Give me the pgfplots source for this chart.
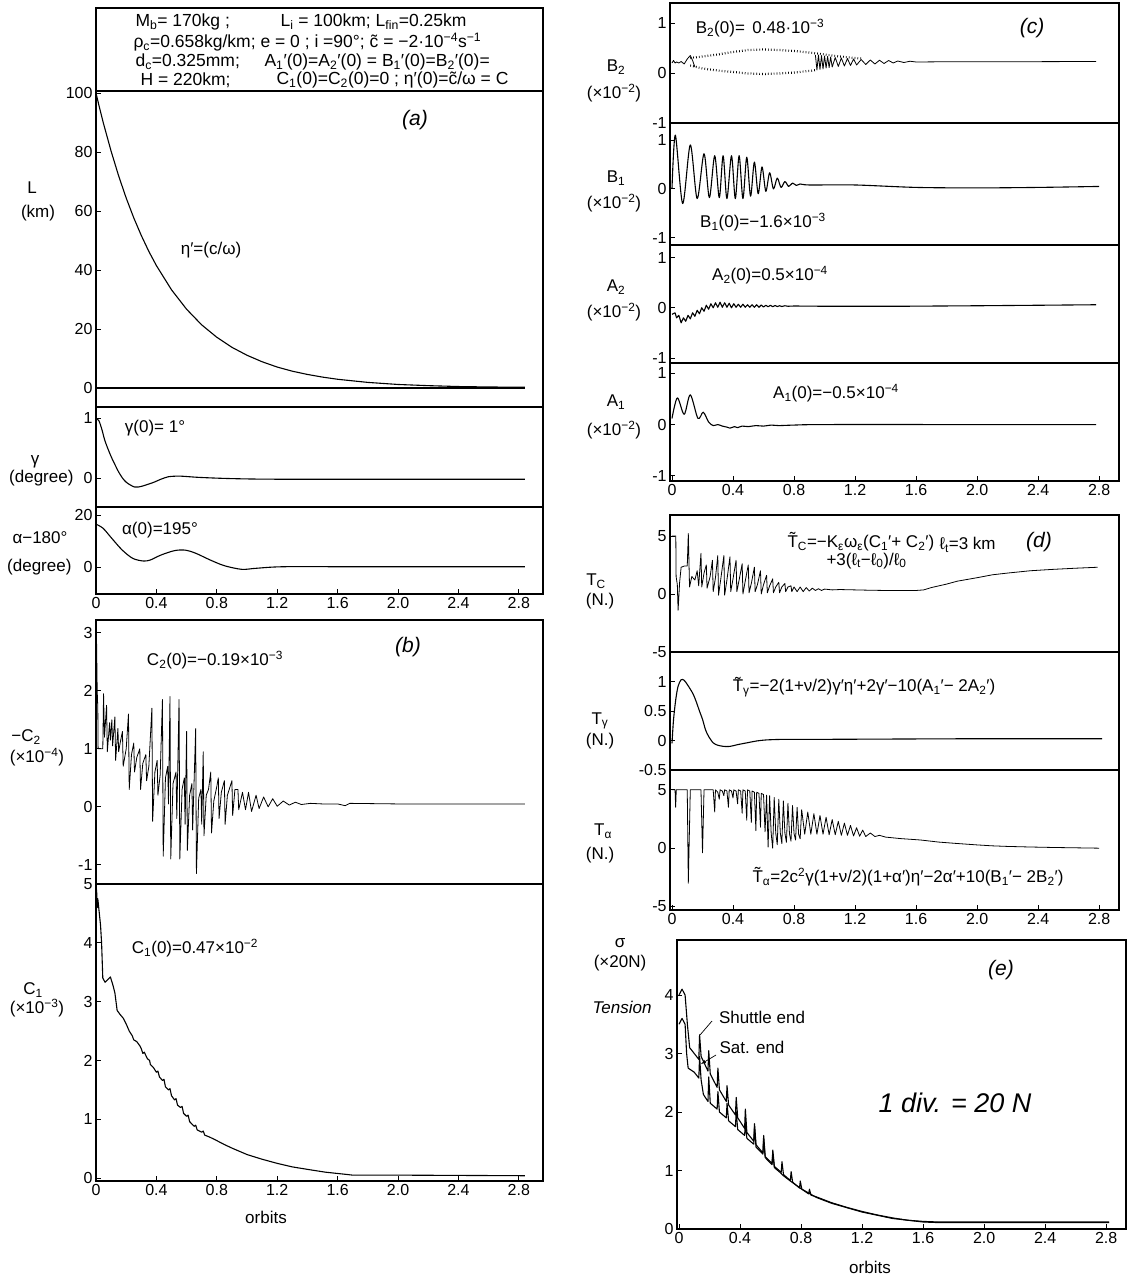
\documentclass[border=0pt]{standalone}
\usepackage{fontspec}
\setmainfont{Liberation Sans}
\usepackage{pgfplots}
\pgfplotsset{compat=1.18}
\newcommand\lab{\fontsize{17}{19}\selectfont}
\newcommand\tck{\fontsize{16}{18}\selectfont}
\newcommand\hw{\fontsize{21}{23}\selectfont\itshape}
\pgfplotsset{
  every axis/.append style={
    scale only axis, anchor=north west,
    axis line style={line width=1.4pt},
    tick style={black, line width=0.8pt},
    major tick length=5pt, tick align=inside, tick pos=left,
    /pgf/number format/assume math mode=true,
    tick label style={font=\tck},
  },
  Lcol/.style={xmin=0, xmax=2.96, width=447pt},
  Rcol/.style={xmin=-0.013, xmax=2.93, width=449pt},
  noxt/.style={xtick=\empty},
  xt/.style={xtick={0,0.4,0.8,1.2,1.6,2.0,2.4,2.8}, xticklabels={0,0.4,0.8,1.2,1.6,2.0,2.4,2.8}},
  curve/.style={black, line width=1.1pt, line join=round},
  thin curve/.style={black, line width=0.8pt, line join=round},
  dots/.style={black, line width=2.2pt, dash pattern=on 0.7pt off 2.2pt},
}
\begin{document}
\begin{tikzpicture}
% ---------------- header box ----------------
\draw[line width=1.4pt] (96pt,-8pt) rectangle (543pt,-91pt);
\begin{scope}[font=\fontsize{17.5}{19}\selectfont]
\node[anchor=west] at (132pt,-22pt) {M\textsubscript{b}= 170kg ;};
\node[anchor=west] at (277pt,-22pt) {L\textsubscript{i} = 100km; L\textsubscript{fin}=0.25km};
\node[anchor=west] at (130pt,-42pt) {ρ\textsubscript{c}=0.658kg/km; e = 0 ; i =90°; c̃ = −2·10\textsuperscript{−4}s\textsuperscript{−1}};
\node[anchor=west] at (132pt,-62pt) {d\textsubscript{c}=0.325mm;};
\node[anchor=west] at (261pt,-62pt) {A\textsubscript{1}′(0)=A\textsubscript{2}′(0) = B\textsubscript{1}′(0)=B\textsubscript{2}′(0)=};
\node[anchor=west] at (137pt,-80pt) {H = 220km;};
\node[anchor=west] at (273pt,-80pt) {C\textsubscript{1}(0)=C\textsubscript{2}(0)=0 ; η′(0)=c̃/ω = C};
\end{scope}

% ---------------- (a) L ----------------
\begin{axis}[Lcol, noxt, at={(96pt,-91pt)}, height=316pt, ymin=-6.44, ymax=100.7, ytick={0,20,40,60,80,100}]
\addplot[curve] coordinates {(0,100)(0.02,95.7)(0.05,89.6)(0.1,80.3)(0.15,71.9)(0.2,64.4)(0.25,57.7)(0.3,51.7)(0.35,46.3)(0.4,41.5)(0.5,33.3)(0.6,26.7)(0.7,21.4)(0.8,17.2)(0.9,13.8)(1.0,11.1)(1.1,8.9)(1.2,7.1)(1.3,5.7)(1.4,4.6)(1.5,3.7)(1.6,2.96)(1.8,1.9)(2.0,1.2)(2.2,0.8)(2.4,0.5)(2.6,0.35)(2.84,0.25)};
\addplot[curve] coordinates {(0,0)(2.84,0)};
\end{axis}
% ---------------- gamma ----------------
\begin{axis}[Lcol, noxt, at={(96pt,-407pt)}, height=100pt, ymin=-0.483, ymax=1.183, ytick={0,1}]
\addplot[curve, smooth] coordinates {(0,1.0)(0.02,0.95)(0.04,0.8)(0.058,0.63)(0.08,0.48)(0.105,0.33)(0.13,0.2)(0.15,0.1)(0.175,0.0)(0.2,-0.07)(0.23,-0.12)(0.256,-0.15)(0.28,-0.15)(0.314,-0.13)(0.35,-0.1)(0.384,-0.07)(0.43,-0.02)(0.477,0.02)(0.52,0.03)(0.57,0.03)(0.686,0.01)(0.9,-0.01)(1.2,-0.02)(2.0,-0.02)(2.84,-0.02)};
\end{axis}
% ---------------- alpha ----------------
\begin{axis}[Lcol, xt, at={(96pt,-507pt)}, height=87pt, ymin=-10.4, ymax=23.1, ytick={0,20}]
\addplot[curve, smooth] coordinates {(0,16.5)(0.047,14.9)(0.105,11.0)(0.174,6.5)(0.244,3.3)(0.314,2.3)(0.36,2.7)(0.43,4.6)(0.52,6.3)(0.59,6.5)(0.66,5.3)(0.756,2.7)(0.85,0.5)(0.965,-0.9)(1.06,-0.5)(1.24,0.1)(1.71,0.1)(2.84,0.1)};
\end{axis}
% ---------------- (b) -C2 ----------------
\begin{axis}[Lcol, noxt, at={(96pt,-620pt)}, height=264pt, ymin=-1.33, ymax=3.22, ytick={-1,0,1,2,3}]
\addplot[thin curve] coordinates {(0,1.0)(0.003,3.0)(0.008,2.0)(0.012,1.7)(0.014,1.0)(0.045,1.0)(0.05,1.95)(0.056,1.2)(0.07,1.75)(0.075,0.95)(0.09,1.45)(0.095,1.15)(0.105,1.5)(0.11,1.05)(0.125,1.55)(0.13,0.8)(0.145,1.35)(0.15,0.95)(0.16,1.1)(0.175,1.3)(0.18,0.7)(0.2,1.0)(0.215,1.6)(0.22,0.3)(0.235,0.9)(0.25,1.1)(0.255,0.6)(0.27,0.85)(0.29,1.0)(0.295,0.3)(0.31,0.75)(0.33,0.9)(0.335,0.45)(0.35,0.7)(0.37,1.7)(0.375,-0.25)(0.39,0.6)(0.405,0.8)(0.41,0.2)(0.425,0.55)(0.44,1.85)(0.445,-0.85)(0.46,0.5)(0.475,0.7)(0.48,0.05)(0.49,1.9)(0.495,-0.9)(0.51,0.4)(0.53,0.6)(0.535,-0.2)(0.55,1.85)(0.555,-0.9)(0.57,0.3)(0.585,0.5)(0.59,-0.3)(0.6,1.3)(0.605,-0.75)(0.62,0.2)(0.635,0.4)(0.64,-0.4)(0.66,1.35)(0.665,-1.15)(0.68,0.15)(0.695,0.3)(0.7,-0.3)(0.71,0.95)(0.715,-0.5)(0.73,0.2)(0.745,0.3)(0.76,0.6)(0.765,-0.45)(0.78,0.1)(0.8,0.35)(0.81,0.5)(0.815,-0.2)(0.83,0.25)(0.85,0.45)(0.855,-0.3)(0.87,0.2)(0.9,0.45)(0.905,-0.15)(0.92,0.3)(0.94,0.3)(0.945,-0.05)(0.97,0.25)(0.99,-0.05)(1.01,0.25)(1.03,-0.08)(1.06,0.2)(1.08,-0.03)(1.11,0.17)(1.14,0.0)(1.17,0.14)(1.2,0.01)(1.24,0.1)(1.28,0.03)(1.32,0.08)(1.36,0.04)(1.42,0.06)(1.5,0.05)(1.6,0.05)(1.65,0.02)(1.68,0.06)(2.0,0.05)(2.84,0.05)};
\end{axis}
% ---------------- C1 ----------------
\begin{axis}[Lcol, xt, at={(96pt,-884pt)}, height=297pt, ymin=-0.05, ymax=5.0, ytick={0,1,2,3,4,5}]
\addplot[curve] coordinates {(0,4.0)(0.004,4.9)(0.008,4.6)(0.012,4.75)(0.02,4.55)(0.03,4.3)(0.037,4.0)(0.045,3.4)(0.06,3.33)(0.08,3.38)(0.095,3.42)(0.11,3.3)(0.125,3.15)(0.14,2.85)(0.16,2.78)(0.18,2.72)(0.2,2.62)(0.22,2.5)(0.24,2.42)(0.25,2.35)(0.27,2.32)(0.29,2.25)(0.3,2.2)(0.31,2.12)(0.32,2.14)(0.34,2.03)(0.355,2.0)(0.36,1.93)(0.38,1.88)(0.4,1.8)(0.41,1.82)(0.42,1.72)(0.44,1.66)(0.45,1.68)(0.46,1.55)(0.48,1.5)(0.49,1.52)(0.5,1.4)(0.52,1.33)(0.53,1.35)(0.54,1.24)(0.56,1.2)(0.57,1.22)(0.58,1.1)(0.6,1.05)(0.61,1.07)(0.62,0.96)(0.65,0.88)(0.66,0.9)(0.67,0.82)(0.7,0.78)(0.71,0.8)(0.72,0.73)(0.75,0.7)(0.79,0.65)(0.85,0.57)(0.9,0.51)(1.0,0.4)(1.1,0.32)(1.2,0.25)(1.3,0.19)(1.42,0.14)(1.52,0.1)(1.63,0.07)(1.7,0.05)(2.0,0.05)(2.84,0.04)};
\end{axis}

% ---------------- (c) B2 ----------------
\begin{axis}[Rcol, noxt, at={(670pt,-3pt)}, height=120pt, ymin=-1.0, ymax=1.4, ytick={-1,0,1}]
\addplot[thin curve] coordinates {(0,0.2)(0.01,0.25)(0.02,0.2)(0.03,0.22)(0.045,0.2)(0.06,0.23)(0.08,0.18)(0.1,0.28)(0.12,0.35)(0.135,0.25)(0.15,0.12)};
\addplot[dots] coordinates {(0.12,0.3)(0.2,0.33)(0.3,0.37)(0.4,0.42)(0.5,0.46)(0.6,0.47)(0.7,0.46)(0.8,0.44)(0.9,0.41)(1.0,0.37)(1.1,0.33)(1.2,0.3)(1.25,0.29)};
\addplot[dots] coordinates {(0.12,0.15)(0.2,0.09)(0.3,0.05)(0.4,0.02)(0.5,-0.01)(0.6,-0.02)(0.7,-0.01)(0.8,0.01)(0.9,0.04)(0.95,0.06)};
\addplot[thin curve] coordinates {(0.94,0.36)(0.95,0.06)(0.96,0.36)(0.97,0.07)(0.98,0.35)(0.99,0.08)(1.0,0.34)(1.01,0.1)(1.02,0.33)(1.03,0.11)(1.04,0.32)(1.05,0.12)(1.07,0.31)(1.09,0.13)(1.11,0.3)(1.13,0.14)(1.15,0.29)(1.17,0.15)(1.19,0.28)(1.21,0.16)(1.24,0.27)(1.27,0.17)(1.3,0.26)(1.33,0.18)(1.36,0.255)(1.39,0.19)(1.42,0.25)(1.45,0.2)(1.48,0.24)(1.52,0.21)(1.56,0.235)(1.6,0.22)(1.8,0.225)(2.2,0.225)(2.78,0.23)};
\end{axis}
% ---------------- B1 ----------------
\begin{axis}[Rcol, noxt, at={(670pt,-123pt)}, height=122pt, ymin=-1.15, ymax=1.35, ytick={-1,0,1}]
\addplot[curve, smooth] coordinates {(0,0.0)(0.022,1.1)(0.07,-0.3)(0.12,0.9)(0.165,-0.2)(0.21,0.72)(0.245,-0.18)(0.28,0.68)(0.31,-0.18)(0.335,0.68)(0.36,-0.2)(0.39,0.68)(0.415,-0.2)(0.44,0.68)(0.465,-0.2)(0.49,0.65)(0.515,-0.15)(0.54,0.55)(0.565,-0.1)(0.59,0.45)(0.615,-0.05)(0.64,0.33)(0.665,0.0)(0.69,0.22)(0.715,0.03)(0.74,0.15)(0.765,0.05)(0.79,0.12)(0.815,0.07)(0.84,0.1)(0.9,0.08)(1.2,0.08)(1.6,0.03)(2.0,0.02)(2.4,0.03)(2.8,0.05)};
\end{axis}
% ---------------- A2 ----------------
\begin{axis}[Rcol, noxt, at={(670pt,-245pt)}, height=118pt, ymin=-1.1, ymax=1.25, ytick={-1,0,1}]
\addplot[curve] coordinates {(0,-0.13)(0.02,-0.1)(0.03,-0.2)(0.045,-0.15)(0.06,-0.3)(0.075,-0.2)(0.09,-0.27)(0.105,-0.15)(0.12,-0.22)(0.135,-0.1)(0.15,-0.17)(0.165,-0.05)(0.18,-0.12)(0.195,0.0)(0.21,-0.07)(0.225,0.05)(0.24,-0.03)(0.255,0.08)(0.27,0.0)(0.285,0.1)(0.3,0.01)(0.315,0.11)(0.33,0.01)(0.345,0.1)(0.36,0.01)(0.375,0.09)(0.39,0.0)(0.405,0.08)(0.42,0.01)(0.435,0.07)(0.45,0.01)(0.465,0.07)(0.48,0.01)(0.495,0.06)(0.51,0.01)(0.525,0.06)(0.54,0.01)(0.555,0.06)(0.57,0.01)(0.585,0.055)(0.6,0.015)(0.615,0.05)(0.63,0.02)(0.645,0.05)(0.66,0.02)(0.675,0.045)(0.69,0.025)(0.705,0.04)(0.72,0.025)(0.74,0.04)(0.76,0.03)(0.8,0.035)(1.0,0.03)(1.5,0.03)(2.0,0.04)(2.4,0.05)(2.78,0.06)};
\end{axis}
% ---------------- A1 ----------------
\begin{axis}[Rcol, xt, at={(670pt,-363pt)}, height=118pt, ymin=-1.1, ymax=1.2, ytick={-1,0,1}]
\addplot[curve, smooth] coordinates {(0,0.12)(0.035,0.52)(0.08,0.2)(0.12,0.58)(0.17,0.12)(0.205,0.24)(0.24,0.05)(0.27,-0.02)(0.3,0.0)(0.33,-0.03)(0.36,-0.05)(0.38,-0.07)(0.41,-0.04)(0.43,-0.06)(0.46,-0.03)(0.5,-0.04)(0.55,-0.02)(0.6,-0.03)(0.65,-0.01)(0.7,-0.02)(0.8,-0.01)(1.0,0.0)(2.0,0.0)(2.78,0.0)};
\end{axis}

% ---------------- (d) Tc ----------------
\begin{axis}[Rcol, noxt, at={(670pt,-515pt)}, height=137pt, ymin=-5, ymax=6.8, ytick={-5,0,5}]
\addplot[thin curve] coordinates {(0,5.0)(0.025,5.0)(0.027,1.5)(0.035,0.8)(0.04,-1.4)(0.05,1.0)(0.06,2.3)(0.08,2.4)(0.1,2.4)(0.107,5.2)(0.115,0.6)(0.13,1.5)(0.15,1.2)(0.165,2.0)(0.175,0.7)(0.19,3.5)(0.195,0.6)(0.21,1.8)(0.225,2.5)(0.23,0.5)(0.25,1.5)(0.265,2.9)(0.27,0.2)(0.285,1.4)(0.3,3.3)(0.305,-0.1)(0.32,1.3)(0.34,3.3)(0.345,-0.1)(0.36,1.2)(0.38,3.2)(0.385,0.2)(0.4,1.3)(0.42,2.9)(0.425,0.2)(0.44,1.2)(0.46,2.6)(0.465,0.0)(0.48,1.1)(0.5,2.5)(0.505,0.1)(0.52,0.9)(0.54,2.3)(0.545,0.2)(0.56,0.8)(0.58,2.0)(0.585,0.0)(0.6,0.8)(0.62,1.6)(0.625,0.1)(0.64,0.7)(0.66,1.3)(0.665,0.1)(0.68,0.6)(0.7,1.0)(0.705,0.1)(0.72,0.6)(0.74,0.9)(0.745,0.2)(0.76,0.6)(0.78,0.7)(0.785,0.2)(0.8,0.6)(0.82,0.2)(0.84,0.6)(0.86,0.2)(0.88,0.55)(0.9,0.25)(0.92,0.5)(0.94,0.3)(0.96,0.45)(0.98,0.3)(1.0,0.42)(1.05,0.35)(1.1,0.38)(1.2,0.35)(1.3,0.32)(1.4,0.3)(1.5,0.3)(1.6,0.3)(1.65,0.35)(1.7,0.55)(1.8,0.85)(1.87,1.1)(2.0,1.4)(2.1,1.65)(2.2,1.8)(2.35,2.0)(2.5,2.12)(2.65,2.22)(2.79,2.3)};
\end{axis}
% ---------------- T gamma ----------------
\begin{axis}[Rcol, noxt, at={(670pt,-652pt)}, height=118pt, ymin=-0.5, ymax=1.5, ytick={-0.5,0,0.5,1}]
\addplot[curve, smooth] coordinates {(0,-0.05)(0.01,0.35)(0.025,0.7)(0.04,0.92)(0.06,1.03)(0.08,1.02)(0.1,0.95)(0.12,0.87)(0.14,0.78)(0.16,0.65)(0.18,0.5)(0.2,0.36)(0.22,0.18)(0.24,0.07)(0.27,-0.04)(0.3,-0.08)(0.34,-0.1)(0.38,-0.1)(0.43,-0.07)(0.49,-0.04)(0.55,-0.01)(0.62,0.01)(0.75,0.02)(1.0,0.02)(2.0,0.03)(2.82,0.03)};
\end{axis}
% ---------------- T alpha ----------------
\begin{axis}[Rcol, xt, at={(670pt,-770pt)}, height=140pt, ymin=-5.3, ymax=6.7, ytick={-5,0,5}]
\addplot[thin curve] coordinates {(0,5.0)(0.02,5.0)(0.024,3.5)(0.028,5.0)(0.1,5.0)(0.107,-3.0)(0.12,5.0)(0.19,5.0)(0.2,-0.4)(0.21,5.0)(0.27,5.0)(0.28,3.1)(0.285,5.0)(0.3,4.8)(0.31,4.2)(0.315,5.0)(0.33,4.9)(0.34,4.5)(0.345,5.0)(0.36,4.9)(0.37,3.5)(0.375,5.0)(0.39,4.9)(0.4,4.3)(0.405,5.0)(0.42,4.9)(0.43,3.8)(0.435,5.0)(0.45,4.9)(0.46,3.0)(0.465,5.0)(0.48,4.9)(0.49,2.4)(0.495,5.0)(0.51,4.9)(0.52,2.2)(0.525,4.9)(0.54,4.8)(0.55,1.5)(0.555,4.8)(0.57,4.7)(0.58,1.8)(0.585,4.7)(0.6,4.6)(0.61,1.4)(0.62,4.55)(0.63,0.1)(0.64,4.5)(0.65,1.3)(0.66,0.0)(0.67,4.35)(0.68,1.3)(0.69,0.3)(0.7,4.2)(0.71,1.3)(0.72,0.4)(0.73,4.05)(0.74,1.3)(0.75,0.5)(0.76,3.85)(0.77,1.25)(0.78,0.6)(0.79,3.65)(0.8,1.25)(0.81,0.7)(0.82,3.5)(0.83,1.2)(0.84,0.8)(0.85,3.3)(0.87,1.2)(0.89,3.1)(0.91,1.2)(0.93,2.95)(0.95,1.2)(0.97,2.8)(0.99,1.2)(1.01,2.65)(1.03,1.15)(1.05,2.45)(1.07,1.15)(1.09,2.3)(1.11,1.1)(1.13,2.15)(1.15,1.1)(1.17,1.95)(1.19,1.05)(1.21,1.75)(1.23,1.02)(1.25,1.55)(1.27,1.0)(1.3,1.3)(1.33,1.0)(1.36,1.1)(1.4,0.95)(1.5,0.82)(1.63,0.7)(1.75,0.52)(1.87,0.4)(2.0,0.28)(2.1,0.2)(2.2,0.15)(2.35,0.1)(2.5,0.06)(2.8,0.0)};
\end{axis}

% ---------------- (e) Tension ----------------
\begin{axis}[Rcol, xt, at={(677pt,-940pt)}, height=289pt, ymin=0, ymax=4.94, ytick={0,1,2,3,4}]
\addplot[curve] coordinates {(0,4.0)(0.02,4.1)(0.04,4.0)(0.055,3.5)(0.07,3.1)(0.1,3.0)(0.13,2.9)(0.135,3.32)(0.145,2.95)(0.19,2.7)(0.195,3.05)(0.205,2.65)(0.25,2.42)(0.255,2.75)(0.265,2.38)(0.31,2.18)(0.315,2.45)(0.325,2.12)(0.37,1.95)(0.375,2.25)(0.385,1.9)(0.43,1.72)(0.435,2.05)(0.445,1.65)(0.49,1.5)(0.495,1.8)(0.505,1.44)(0.55,1.3)(0.555,1.6)(0.565,1.24)(0.61,1.12)(0.615,1.35)(0.625,1.07)(0.67,0.97)(0.675,1.15)(0.685,0.93)(0.73,0.83)(0.735,0.98)(0.745,0.8)(0.79,0.7)(0.795,0.82)(0.805,0.68)(0.85,0.6)(0.855,0.68)(0.865,0.58)(0.9,0.55)(1.0,0.45)(1.1,0.37)(1.2,0.3)(1.3,0.24)(1.4,0.19)(1.5,0.15)(1.6,0.13)(1.7,0.12)(2.0,0.12)(2.82,0.12)};
\addplot[curve] coordinates {(0,3.5)(0.02,3.6)(0.04,3.5)(0.05,3.0)(0.06,2.75)(0.1,2.68)(0.13,2.58)(0.135,2.95)(0.145,2.55)(0.16,2.3)(0.19,2.18)(0.195,2.6)(0.205,2.15)(0.25,2.05)(0.255,2.35)(0.265,2.0)(0.31,1.9)(0.315,2.15)(0.325,1.85)(0.37,1.75)(0.375,2.0)(0.385,1.7)(0.43,1.6)(0.435,1.8)(0.445,1.55)(0.49,1.45)(0.495,1.75)(0.505,1.4)(0.55,1.28)(0.555,1.55)(0.565,1.22)(0.61,1.1)(0.615,1.3)(0.625,1.05)(0.67,0.95)(0.68,0.92)(0.73,0.82)(0.8,0.69)(0.9,0.54)(1.0,0.44)(1.2,0.29)(1.4,0.18)(1.6,0.12)(1.7,0.11)(2.82,0.11)};
\end{axis}

% ---------------- labels ----------------
\begin{scope}[font=\lab]
\node at (32pt,-188pt) {L};
\node at (38pt,-213pt) {(km)};
\node at (35pt,-462pt) {γ};
\node[anchor=east] at (77pt,-478pt) {(degree)};
\node at (40pt,-538pt) {α−180°};
\node[anchor=east] at (75pt,-567pt) {(degree)};
\node at (26pt,-737pt) {−C\textsubscript{2}};
\node at (37pt,-757pt) {(×10\textsuperscript{−4})};
\node at (33pt,-990pt) {C\textsubscript{1}};
\node at (37pt,-1008pt) {(×10\textsuperscript{−3})};
\node at (211pt,-250pt) {η′=(c/ω)};
\node at (155pt,-428pt) {γ(0)= 1°};
\node at (160pt,-530pt) {α(0)=195°};
\node at (215pt,-660pt) {C\textsubscript{2}(0)=−0.19×10\textsuperscript{−3}};
\node at (195pt,-948pt) {C\textsubscript{1}(0)=0.47×10\textsuperscript{−2}};
\node at (266pt,-1217pt) {orbits};
% right
\node at (616pt,-67pt) {B\textsubscript{2}};
\node at (614pt,-93pt) {(×10\textsuperscript{−2})};
\node at (616pt,-178pt) {B\textsubscript{1}};
\node at (614pt,-203pt) {(×10\textsuperscript{−2})};
\node at (616pt,-287pt) {A\textsubscript{2}};
\node at (614pt,-312pt) {(×10\textsuperscript{−2})};
\node at (616pt,-402pt) {A\textsubscript{1}};
\node at (614pt,-430pt) {(×10\textsuperscript{−2})};
\node at (760pt,-28pt) {B\textsubscript{2}(0)=\, 0.48·10\textsuperscript{−3}};
\node at (763pt,-222pt) {B\textsubscript{1}(0)=−1.6×10\textsuperscript{−3}};
\node at (770pt,-275pt) {A\textsubscript{2}(0)=0.5×10\textsuperscript{−4}};
\node at (836pt,-393pt) {A\textsubscript{1}(0)=−0.5×10\textsuperscript{−4}};
\node at (596pt,-581pt) {T\textsubscript{C}};
\node at (600pt,-601pt) {(N.)};
\node at (600pt,-721pt) {T\textsubscript{γ}};
\node at (600pt,-741pt) {(N.)};
\node at (603pt,-831pt) {T\textsubscript{α}};
\node at (600pt,-855pt) {(N.)};
\node[anchor=west] at (784pt,-542pt) {T̃\textsubscript{C}=−K\textsubscript{ε}ω\textsubscript{ε}(C\textsubscript{1}′+ C\textsubscript{2}′)};
\node[anchor=west] at (936pt,-545pt) {ℓ\textsubscript{t}=3 km};
\node[anchor=west] at (823pt,-561pt) {+3(ℓ\textsubscript{t}−ℓ\textsubscript{0})/ℓ\textsubscript{0}};
\node at (864pt,-687pt) {T̃\textsubscript{γ}=−2(1+ν/2)γ′η′+2γ′−10(A\textsubscript{1}′− 2A\textsubscript{2}′)};
\node at (908pt,-877pt) {T̃\textsubscript{α}=2c\textsuperscript{2}γ(1+ν/2)(1+α′)η′−2α′+10(B\textsubscript{1}′− 2B\textsubscript{2}′)};
\node at (620pt,-943pt) {σ};
\node at (620pt,-963pt) {(×20N)};
\node at (622pt,-1007pt) {\itshape Tension};
\node at (762pt,-1017pt) {Shuttle end};
\node at (752pt,-1047pt) {Sat. end};
\node at (870pt,-1267pt) {orbits};
\end{scope}
\draw[line width=0.7pt] (700pt,-1035pt) -- (712pt,-1021pt);
\draw[line width=0.7pt, -latex] (716pt,-1055pt) -- (701pt,-1064pt);
\node[font=\hw] at (415pt,-120pt) {(a)};
\node[font=\hw] at (408pt,-647pt) {(b)};
\node[font=\hw] at (1032pt,-28pt) {(c)};
\node[font=\hw] at (1039pt,-542pt) {(d)};
\node[font=\hw] at (1001pt,-970pt) {(e)};
\node[font=\fontsize{27}{29}\selectfont\itshape] at (955pt,-1103pt) {1 div. = 20 N};
\pgfresetboundingbox
\path[use as bounding box] (0pt,0pt) rectangle (1130pt,-1281pt);
\end{tikzpicture}
\end{document}
